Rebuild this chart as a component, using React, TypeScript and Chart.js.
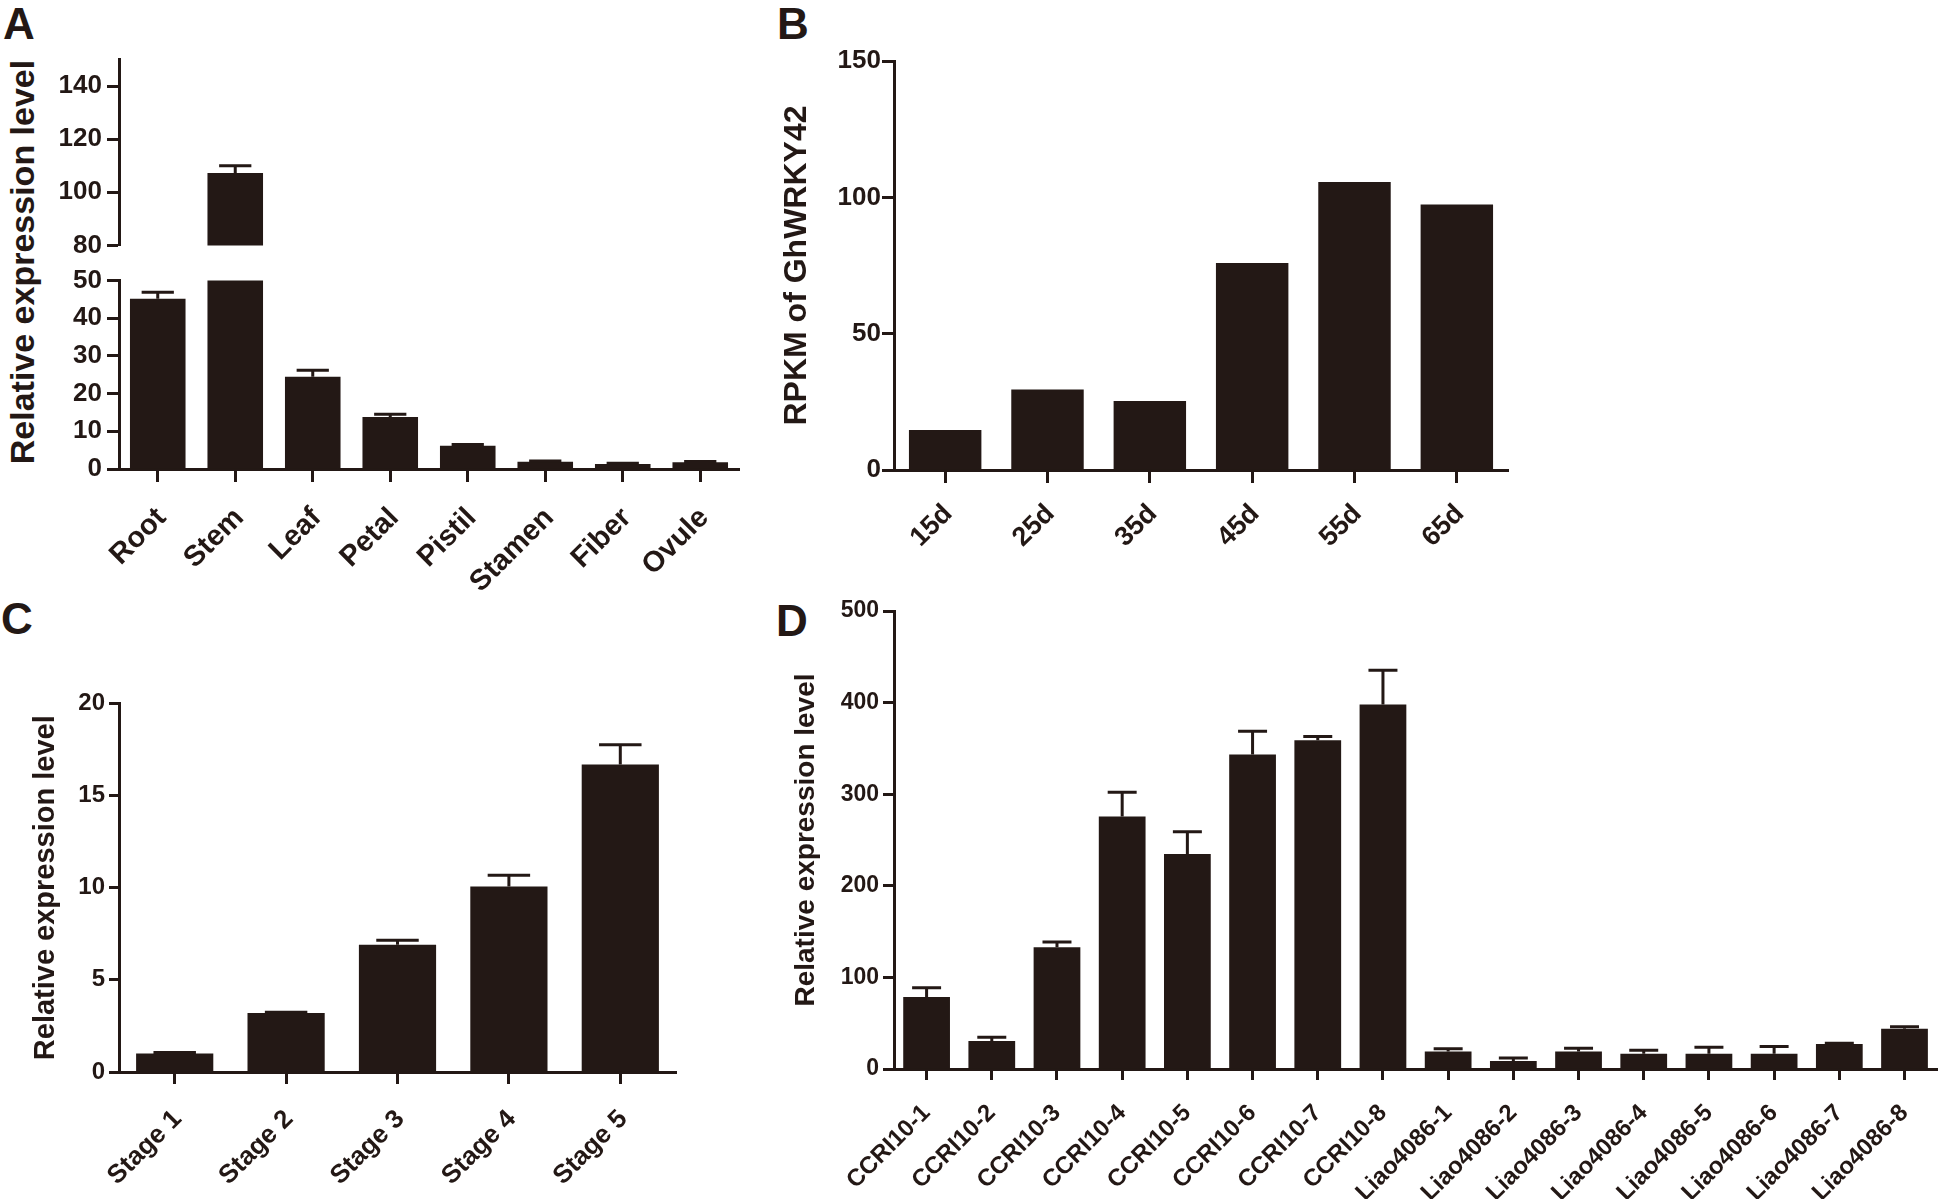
import React, { useEffect, useRef } from 'react';
import { Chart, registerables } from 'chart.js';

Chart.register(...registerables);

const INK = '#231815';
const FONT = '"Liberation Sans", Arial, Helvetica, sans-serif';

// ---- Panel A : tissues (broken y axis) ----
const tissueLabels = ['Root', 'Stem', 'Leaf', 'Petal', 'Pistil', 'Stamen', 'Fiber', 'Ovule'];
const tissueMeans = [45.2, 107.3, 24.5, 13.8, 6.2, 1.9, 1.3, 1.8];
const tissueSD = [1.7, 2.7, 1.7, 0.7, 0.3, 0.2, 0.2, 0.2];
const tissueUpperTicks = [80, 100, 120, 140];
const tissueLowerTicks = [0, 10, 20, 30, 40, 50];

// ---- Panel B : RPKM during fiber development ----
const fiberDays = ['15d', '25d', '35d', '45d', '55d', '65d'];
const fiberRPKM = [14.7, 29.5, 25.3, 75.9, 105.6, 97.4];
const fiberTicks = [0, 50, 100, 150];

// ---- Panel C : stages ----
const stageLabels = ['Stage 1', 'Stage 2', 'Stage 3', 'Stage 4', 'Stage 5'];
const stageMeans = [1.0, 3.2, 6.9, 10.07, 16.68];
const stageSD = [0.06, 0.04, 0.25, 0.6, 1.08];
const stageTicks = [0, 5, 10, 15, 20];

// ---- Panel D : lines ----
const lineLabels = [
  'CCRI10-1', 'CCRI10-2', 'CCRI10-3', 'CCRI10-4', 'CCRI10-5', 'CCRI10-6', 'CCRI10-7', 'CCRI10-8',
  'Liao4086-1', 'Liao4086-2', 'Liao4086-3', 'Liao4086-4', 'Liao4086-5', 'Liao4086-6', 'Liao4086-7', 'Liao4086-8',
];
const lineMeans = [78.5, 30.5, 132.8, 275.7, 234.8, 343.4, 358.8, 398.0, 19.0, 8.6, 19.2, 16.7, 16.7, 16.7, 27.2, 43.9];
const lineSD = [10.1, 4.2, 5.9, 26.3, 24.2, 25.4, 4.2, 37.3, 3.0, 3.5, 3.5, 3.8, 7.1, 7.9, 0.8, 2.1];
const lineTicks = [0, 100, 200, 300, 400, 500];

type Spec = {
  left: number; top: number; width: number; height: number;
  labels: string[]; values: number[]; errors?: number[];
  yMin: number; yMax: number; yTicks: number[];
  showX: boolean;
  yAxisWidth: number; xAxisHeight: number;
  padTop: number; padRight: number; padBottom: number;
  tickFont: number; xFont: number; title?: string; titleFont?: number;
  barPct: number; capRatio: number;
  yTickLen: number; xTickLen: number; yPad: number; xPad: number; xLabelOffset: number;
};

const errorBarPlugin = {
  id: 'errorBars',
  afterDatasetsDraw(chart: any, _args: any, opts: any) {
    const ds = chart.data.datasets[0];
    const errs: number[] | undefined = ds.errors;
    if (!errs) return;
    const meta = chart.getDatasetMeta(0);
    const y = chart.scales.y;
    const ctx = chart.ctx;
    ctx.save();
    ctx.strokeStyle = INK;
    ctx.lineWidth = opts.lineWidth || 3;
    meta.data.forEach((bar: any, i: number) => {
      const v = ds.data[i];
      const e = errs[i];
      if (v == null || !e) return;
      if (v < y.min || v > y.max) return;
      const yMean = y.getPixelForValue(v);
      const yTop = y.getPixelForValue(v + e);
      const half = (bar.width * (opts.capRatio || 0.6)) / 2;
      ctx.beginPath();
      ctx.moveTo(bar.x, yMean);
      ctx.lineTo(bar.x, yTop);
      ctx.moveTo(bar.x - half, yTop);
      ctx.lineTo(bar.x + half, yTop);
      ctx.stroke();
    });
    ctx.restore();
  },
};

function BarPanel({ spec }: { spec: Spec }) {
  const ref = useRef<HTMLCanvasElement>(null);
  useEffect(() => {
    const s = spec;
    const canvas = ref.current;
    if (!canvas) return;
    const chart = new Chart(canvas, {
      type: 'bar',
      data: {
        labels: s.labels,
        datasets: [
          {
            data: s.values,
            errors: s.errors,
            backgroundColor: INK,
            borderWidth: 0,
            barPercentage: s.barPct,
            categoryPercentage: 1,
            clip: 0,
          } as any,
        ],
      },
      options: {
        animation: false,
        responsive: false,
        devicePixelRatio: 1,
        layout: { padding: { top: s.padTop, right: s.padRight, bottom: s.padBottom, left: 0 } },
        plugins: {
          legend: { display: false },
          tooltip: { enabled: false },
          errorBars: { capRatio: s.capRatio, lineWidth: 3 },
        } as any,
        scales: {
          x: {
            type: 'category',
            offset: true,
            display: s.showX,
            border: { display: true, color: INK, width: 3 },
            grid: {
              offset: false, drawOnChartArea: false, drawTicks: true,
              tickLength: s.xTickLen, tickWidth: 3, tickColor: INK, color: INK,
            },
            ticks: {
              autoSkip: false, minRotation: 45, maxRotation: 45,
              padding: s.xPad, labelOffset: s.xLabelOffset, color: INK,
              font: { family: FONT, size: s.xFont, weight: 'bold' },
            },
            afterFit: (scale: any) => { scale.height = s.xAxisHeight; },
          },
          y: {
            type: 'linear',
            min: s.yMin,
            max: s.yMax,
            afterBuildTicks: (scale: any) => { scale.ticks = s.yTicks.map((v) => ({ value: v })); },
            border: { display: true, color: INK, width: 3 },
            grid: {
              drawOnChartArea: false, drawTicks: true,
              tickLength: s.yTickLen, tickWidth: 3, tickColor: INK, color: INK,
            },
            ticks: {
              padding: s.yPad, color: INK,
              font: { family: FONT, size: s.tickFont, weight: 'bold' },
            },
            title: s.title
              ? { display: true, text: s.title, color: INK, padding: 0, font: { family: FONT, size: s.titleFont, weight: 'bold' } }
              : { display: false },
            afterFit: (scale: any) => { scale.width = s.yAxisWidth; },
          },
        },
      } as any,
      plugins: [errorBarPlugin as any],
    });
    return () => chart.destroy();
  }, [spec]);
  return (
    <canvas
      ref={ref}
      width={spec.width}
      height={spec.height}
      style={{ position: 'absolute', left: spec.left, top: spec.top, width: spec.width, height: spec.height }}
    />
  );
}

const specAUpper: Spec = {
  left: 0, top: 39, width: 749, height: 227,
  labels: tissueLabels, values: tissueMeans, errors: tissueSD,
  yMin: 80, yMax: 150, yTicks: tissueUpperTicks, showX: false,
  yAxisWidth: 119, xAxisHeight: 0, padTop: 18, padRight: 10, padBottom: 18,
  tickFont: 26, xFont: 29, barPct: 0.717, capRatio: 0.58,
  yTickLen: 12, xTickLen: 13, yPad: 5, xPad: 19, xLabelOffset: 4,
};
const specALower: Spec = {
  left: 0, top: 260, width: 749, height: 339,
  labels: tissueLabels, values: tissueMeans, errors: tissueSD,
  yMin: 0, yMax: 50, yTicks: tissueLowerTicks, showX: true,
  yAxisWidth: 119, xAxisHeight: 130, padTop: 18, padRight: 10, padBottom: 0,
  tickFont: 26, xFont: 29, barPct: 0.717, capRatio: 0.58,
  yTickLen: 12, xTickLen: 13, yPad: 5, xPad: 19, xLabelOffset: 4,
};
const specB: Spec = {
  left: 778, top: 43, width: 740, height: 527,
  labels: fiberDays, values: fiberRPKM,
  yMin: 0, yMax: 150, yTicks: fiberTicks, showX: true,
  yAxisWidth: 116, xAxisHeight: 100, padTop: 18, padRight: 10, padBottom: 0,
  tickFont: 26, xFont: 27, title: 'RPKM of GhWRKY42', titleFont: 32,
  barPct: 0.708, capRatio: 0.6,
  yTickLen: 12, xTickLen: 13, yPad: 1, xPad: 15, xLabelOffset: 3,
};
const specC: Spec = {
  left: 29, top: 685, width: 657, height: 512,
  labels: stageLabels, values: stageMeans, errors: stageSD,
  yMin: 0, yMax: 20, yTicks: stageTicks, showX: true,
  yAxisWidth: 90, xAxisHeight: 125, padTop: 18, padRight: 10, padBottom: 0,
  tickFont: 24, xFont: 26, title: 'Relative expression level', titleFont: 29,
  barPct: 0.693, capRatio: 0.55,
  yTickLen: 10, xTickLen: 12, yPad: 4, xPad: 20, xLabelOffset: 3,
};
const specD: Spec = {
  left: 789, top: 593, width: 1155, height: 606,
  labels: lineLabels, values: lineMeans, errors: lineSD,
  yMin: 0, yMax: 500, yTicks: lineTicks, showX: true,
  yAxisWidth: 105, xAxisHeight: 130, padTop: 18, padRight: 4, padBottom: 0,
  tickFont: 23, xFont: 24, title: 'Relative expression level', titleFont: 28,
  barPct: 0.717, capRatio: 0.62,
  yTickLen: 11, xTickLen: 11, yPad: 4, xPad: 19, xLabelOffset: 0,
};

const letterStyle = (left: number, top: number): React.CSSProperties => ({
  position: 'absolute', left, top, fontFamily: FONT, fontWeight: 'bold',
  fontSize: 44, lineHeight: '44px', color: INK,
});

export default function App() {
  return (
    <div style={{ position: 'absolute', left: 0, top: 0, width: 1946, height: 1202, background: '#fff', overflow: 'hidden' }}>
      <div style={letterStyle(3, 2)}>A</div>
      <div style={letterStyle(777, 2)}>B</div>
      <div style={letterStyle(1, 597)}>C</div>
      <div style={letterStyle(776, 599)}>D</div>
      <div
        style={{
          position: 'absolute', left: 22, top: 262, transform: 'translate(-50%, -50%) rotate(-90deg)',
          whiteSpace: 'nowrap', fontFamily: FONT, fontWeight: 'bold', fontSize: 34, lineHeight: '34px', color: INK,
        }}
      >
        Relative expression level
      </div>
      <BarPanel spec={specAUpper} />
      <BarPanel spec={specALower} />
      <BarPanel spec={specB} />
      <BarPanel spec={specC} />
      <BarPanel spec={specD} />
    </div>
  );
}
